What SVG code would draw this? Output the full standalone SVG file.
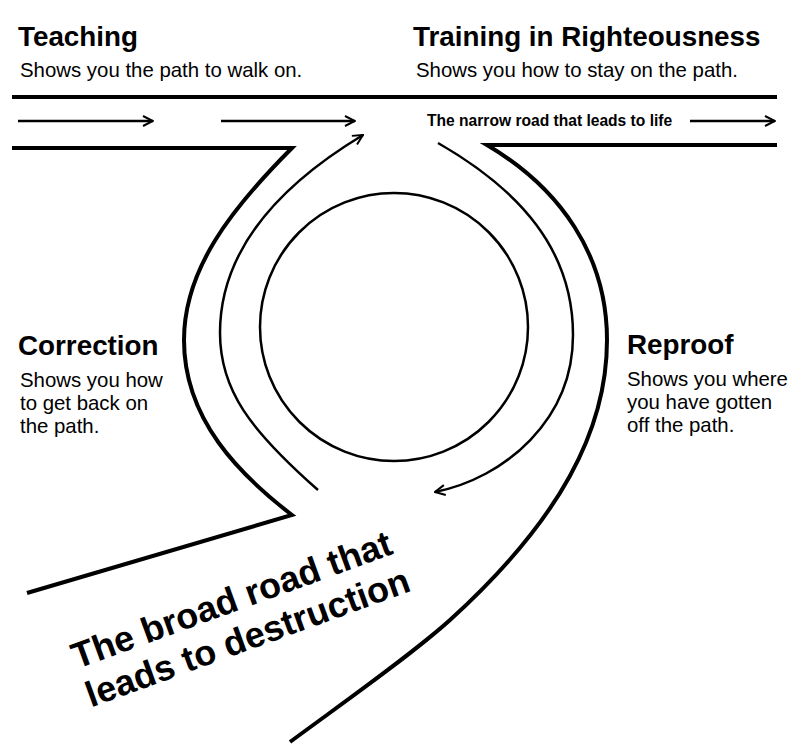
<svg xmlns="http://www.w3.org/2000/svg" width="812" height="750" viewBox="0 0 812 750">
<style>
  .road { fill: none; stroke: #000; stroke-width: 4; stroke-linejoin: miter; }
  .lane { fill: none; stroke: #000; stroke-width: 2.5; }
  .arr { fill: none; stroke: #000; stroke-width: 2.5; marker-end: url(#head); }
  .h { font-family: "Liberation Sans", Arial, sans-serif; font-weight: bold; font-size: 27.8px; fill: #000; }
  .s { font-family: "Liberation Sans", Arial, sans-serif; font-size: 20.4px; fill: #000; }
  .n { font-family: "Liberation Sans", Arial, sans-serif; font-weight: bold; font-size: 15.6px; fill: #000; }
  .b { font-family: "Liberation Sans", Arial, sans-serif; font-weight: bold; font-size: 36px; fill: #000; }
</style>
<defs>
  <marker id="head" viewBox="0 0 12 12" refX="11" refY="6" markerWidth="12" markerHeight="12" markerUnits="userSpaceOnUse" orient="auto">
    <path d="M1,1 L11,6 L1,11" fill="none" stroke="#000" stroke-width="2"/>
  </marker>
</defs>
<rect width="812" height="750" fill="#fff"/>

<g id="roads">
  <path class="road" d="M12,97 L777,97"/>
  <path class="road" d="M12,148 L292,148 C230,210 184,270 184,340 C184,420 240,475 292,515 L27,593"/>
  <path class="road" d="M777,145 L487,145 C560,188 607,255 607,340 C607,430 560,520 450,620 C410,656 340,705 290,742"/>
</g>

<g id="circle">
  <circle class="lane" cx="394" cy="327" r="134"/>
</g>

<g id="connectors">
  <path class="arr" d="M18,121 L153,121"/>
  <path class="arr" d="M221,121 L355,121"/>
  <path class="arr" d="M690,121 L775,121"/>
  <path class="arr" d="M318,490 C250,430 220,390 220,333 C220,250 280,185 363,135"/>
  <path class="arr" d="M438,143 C520,190 573,250 573,335 C573,420 505,478 435,492"/>
</g>

<g id="teaching">
  <text class="h" x="18" y="46">Teaching</text>
  <text class="s" x="20" y="77">Shows you the path to walk on.</text>
</g>
<g id="training">
  <text class="h" x="413" y="46">Training in Righteousness</text>
  <text class="s" x="416" y="77">Shows you how to stay on the path.</text>
</g>
<g id="narrow">
  <text class="n" x="427" y="126">The narrow road that leads to life</text>
</g>
<g id="correction">
  <text class="h" x="18" y="355">Correction</text>
  <text class="s" x="20" y="387">Shows you how</text>
  <text class="s" x="20" y="410">to get back on</text>
  <text class="s" x="20" y="433">the path.</text>
</g>
<g id="reproof">
  <text class="h" x="627" y="354">Reproof</text>
  <text class="s" x="627" y="386">Shows you where</text>
  <text class="s" x="627" y="409">you have gotten</text>
  <text class="s" x="627" y="432">off the path.</text>
</g>
<g id="broad">
  <text class="b" transform="translate(77,669) rotate(-20)"><tspan x="0" y="0">The broad road that</tspan><tspan x="0" y="41">leads to destruction</tspan></text>
</g>
</svg>
